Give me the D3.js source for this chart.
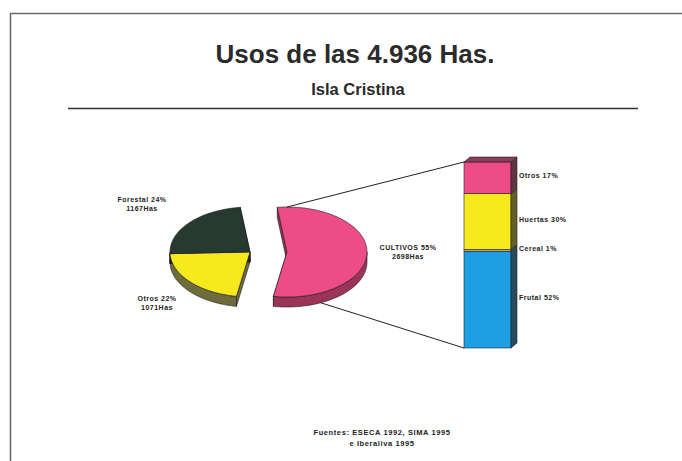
<!DOCTYPE html>
<html>
<head>
<meta charset="utf-8">
<script src="https://cdn.jsdelivr.net/npm/d3@7/dist/d3.min.js"></script>
<style>
  html,body{margin:0;padding:0;background:#fff;}
  svg{display:block;}
  text{font-family:"Liberation Sans",Arial,Helvetica,sans-serif;fill:#222;}
</style>
</head>
<body>
<svg id="chart" width="682" height="461"></svg>
<script>
// ---------- data ----------
const title = "Usos de las 4.936 Has.";
const subtitle = "Isla Cristina";
const pieCats = ["Cultivos", "Otros", "Forestal"];
const pieValues = [2698, 1071, 1167];
const pieLabels = ["CULTIVOS 55%", "Otros 22%", "Forestal 24%"];
const pieSubLabels = ["2698Has", "1071Has", "1167Has"];
const pieColors = ["#ee4c86", "#f6ea1f", "#263a32"];
const pieSideColors = ["#9a3558", "#6e6c3c", "#1c2a24"];

const barCats = ["Frutal", "Cereal", "Huertas", "Otros"];
const barValues = [52, 1, 30, 17];
const barLabels = ["Frutal 52%", "Cereal 1%", "Huertas 30%", "Otros 17%"];
const barColors = ["#1f9fe3", "#b4b283", "#f6ea1f", "#ee4c86"];

const sourceLines = ["Fuentes: ESECA 1992, SIMA 1995", "e Iberaliva 1995"];

// ---------- layout ----------
const svg = d3.select("#chart");
const W = 682, H = 461;

// frame
svg.append("line").attr("x1", 10.5).attr("y1", 13).attr("x2", 10.5).attr("y2", H)
  .attr("stroke", "#6a6a6a").attr("stroke-width", 1.6);
svg.append("line").attr("x1", 10).attr("y1", 13.5).attr("x2", W).attr("y2", 13.5)
  .attr("stroke", "#6a6a6a").attr("stroke-width", 1.6);

// titles
svg.append("text").attr("x", 355).attr("y", 63).attr("text-anchor", "middle")
  .style("font-size", "26px").style("font-weight", "bold").style("fill", "#2b2b2b").text(title);
svg.append("text").attr("x", 358).attr("y", 95).attr("text-anchor", "middle")
  .style("font-size", "16.5px").style("font-weight", "bold").style("fill", "#2b2b2b").text(subtitle);
svg.append("line").attr("x1", 68).attr("x2", 638).attr("y1", 108.5).attr("y2", 108.5)
  .attr("stroke", "#333").attr("stroke-width", 1.3);

// ---------- 3D pie ----------
const RX = 80, RY = 45, DEPTH = 10;
const CY = 252;
const leftCX = 250;          // center of remaining pie
const explode = 37;          // horizontal offset of exploded slice
const toRad = d => d * Math.PI / 180;
const start = toRad(-7);
const pie = d3.pie().sort(null).startAngle(start).endAngle(start + 2 * Math.PI);
const arcs = pie(pieValues);

function pt(cx, cy, a, dy) { return [cx + RX * Math.sin(a), cy - RY * Math.cos(a) + (dy || 0)]; }
function arcPts(cx, cy, a0, a1, dy) {
  const n = Math.max(2, Math.ceil(Math.abs(a1 - a0) / 0.02));
  const s = d3.scaleLinear().domain([0, n]).range([a0, a1]);
  return d3.range(n + 1).map(i => pt(cx, cy, s(i), dy));
}
const line = d3.line();
const closed = pts => line(pts) + "Z";

const pieG = svg.append("g");
const sideLayer = pieG.append("g");
const topLayer = pieG.append("g");

arcs.forEach((d, i) => {
  const cx = i === 0 ? leftCX + explode : leftCX;
  const side = pieSideColors[i];
  // radial cut faces
  [d.startAngle, d.endAngle].forEach(a => {
    const p = pt(cx, CY, a);
    sideLayer.append("path")
      .attr("d", closed([[cx, CY], p, [p[0], p[1] + DEPTH], [cx, CY + DEPTH]]))
      .attr("fill", side).attr("stroke", "#1a1a1a").attr("stroke-width", 0.6);
  });
  // outer rim (front half only)
  const s0 = Math.max(d.startAngle, Math.PI / 2), s1 = Math.min(d.endAngle, 3 * Math.PI / 2);
  if (s1 > s0) {
    const pts = arcPts(cx, CY, s0, s1, 0).concat(arcPts(cx, CY, s1, s0, DEPTH));
    sideLayer.append("path").attr("d", closed(pts))
      .attr("fill", side).attr("stroke", "#1a1a1a").attr("stroke-width", 0.6);
  }
  // top face
  topLayer.append("path")
    .attr("d", closed([[cx, CY]].concat(arcPts(cx, CY, d.startAngle, d.endAngle, 0))))
    .attr("fill", pieColors[i]).attr("stroke", "#1a1a1a").attr("stroke-width", 0.6);
});

// ---------- 3D stacked bar ----------
const barX0 = 464, barX1 = 511, bdx = 6, bdy = -5;
const yBar = d3.scaleLinear().domain([0, d3.sum(barValues)]).range([348, 162]);
const cum = d3.cumsum(barValues);
const segs = barValues.map((v, i) => ({ i, y0: cum[i] - v, y1: cum[i] }));

// connector lines from the exploded slice to the bar
const cCX = leftCX + explode;
const pTop = pt(cCX, CY, 0);
const pBot = pt(cCX, CY, toRad(155), DEPTH);
svg.append("line").attr("x1", pTop[0]).attr("y1", pTop[1]).attr("x2", barX0).attr("y2", yBar(d3.sum(barValues)))
  .attr("stroke", "#222").attr("stroke-width", 1);
svg.append("line").attr("x1", pBot[0]).attr("y1", pBot[1]).attr("x2", barX0).attr("y2", yBar(0))
  .attr("stroke", "#222").attr("stroke-width", 1);

const barG = svg.append("g");
segs.forEach(s => {
  const yt = yBar(s.y1), yb = yBar(s.y0);
  barG.append("rect").attr("x", barX0).attr("y", yt).attr("width", barX1 - barX0).attr("height", yb - yt)
    .attr("fill", barColors[s.i]).attr("stroke", "#222").attr("stroke-width", 0.6);
  barG.append("path")
    .attr("d", closed([[barX1, yt], [barX1 + bdx, yt + bdy], [barX1 + bdx, yb + bdy], [barX1, yb]]))
    .attr("fill", d3.interpolateRgb(barColors[s.i], "#2a2a2a")(0.72)).attr("stroke", "#222").attr("stroke-width", 0.6);
});
const topSeg = segs[segs.length - 1];
const yTop = yBar(topSeg.y1);
barG.append("path")
  .attr("d", closed([[barX0, yTop], [barX0 + bdx, yTop + bdy], [barX1 + bdx, yTop + bdy], [barX1, yTop]]))
  .attr("fill", d3.interpolateRgb(barColors[topSeg.i], "#2a2a2a")(0.5)).attr("stroke", "#222").attr("stroke-width", 0.6);

// bar labels
const smallStyle = sel => sel.style("font-size", "7px").style("font-weight", "bold").style("letter-spacing", "0.5px");
segs.forEach(s => {
  const ym = (yBar(s.y0) + yBar(s.y1)) / 2;
  svg.append("text").attr("x", 519).attr("y", ym).attr("dy", "0.05em")
    .call(smallStyle).text(barLabels[s.i]);
});

// pie labels
const pieLabelPos = [[408, 250], [157, 301], [142, 202]];
arcs.forEach((d, i) => {
  const [x, y] = pieLabelPos[i];
  const t = svg.append("text").attr("x", x).attr("y", y).attr("text-anchor", "middle").call(smallStyle);
  t.append("tspan").attr("x", x).text(pieLabels[i]);
  t.append("tspan").attr("x", x).attr("dy", 9).text(pieSubLabels[i]);
});

// source
sourceLines.forEach((s, i) => {
  svg.append("text").attr("x", 382).attr("y", 435 + i * 10.5).attr("text-anchor", "middle")
    .style("font-size", "7.5px").style("font-weight", "bold").style("letter-spacing", "0.6px").text(s);
});
</script>
</body>
</html>
